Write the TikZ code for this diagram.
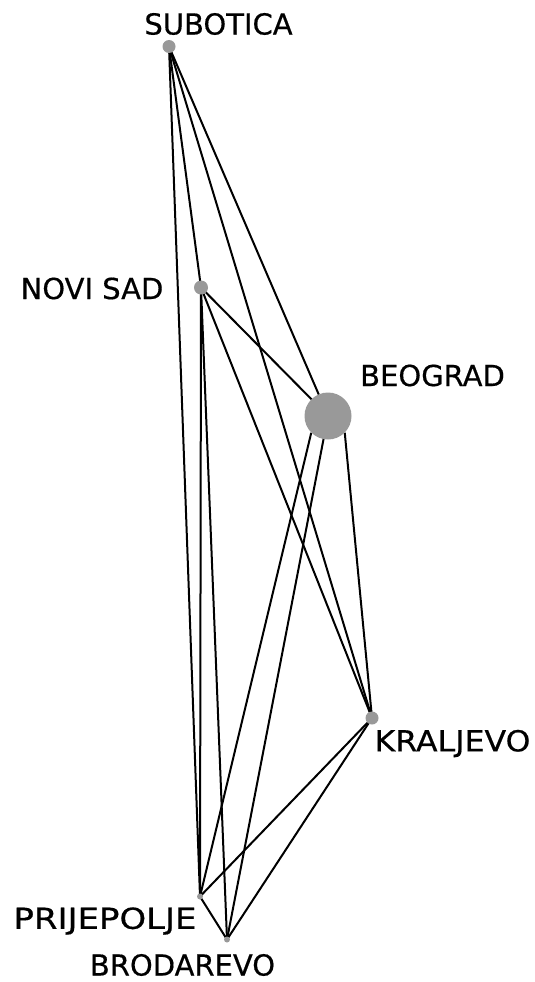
\documentclass[tikz,border=0pt]{standalone}
\usepackage{fontspec}
\usepackage{graphicx}
\setmainfont{DejaVu Sans}[FakeBold=0.5]
\usetikzlibrary{backgrounds}
\definecolor{dotgray}{HTML}{999999}
\begin{document}
\begin{tikzpicture}[x=1pt,y=-1pt,
  city/.style={circle,fill=dotgray,draw=none,inner sep=0pt,minimum size=#1},
  city/.default=13pt,
  edge/.style={line width=2pt,black},
  lbl/.style={inner sep=0pt,anchor=center,font=\fontsize{29}{34}\selectfont}]
\useasboundingbox (0,0) rectangle (535,982);
\node[city=13pt] (sub) at (169,46.5) {};
\node[city=14pt] (ns) at (201,287.5) {};
\node[city=47pt] (beo) at (328,416) {};
\node[city=13pt] (kra) at (372,718) {};
\node[city=6pt] (prij) at (200,896.5) {};
\node[city=6pt] (brod) at (227,939.5) {};
\begin{scope}[on background layer]
  \draw[edge] (sub.center) -- (ns.center);
  \draw[edge] (sub.center) -- (beo.center);
  \draw[edge] (sub.center) -- (kra.center);
  \draw[edge] (sub.center) -- (prij.center);
  \draw[edge] (ns.center) -- (beo.center);
  \draw[edge] (ns.center) -- (kra.center);
  \draw[edge] (ns.center) -- (prij.center);
  \draw[edge] (ns.center) -- (brod.center);
  \draw[edge] (beo.-45) -- (kra.center);
  \draw[edge] (beo.-135) -- (prij.center);
  \draw[edge] (beo.center) -- (brod.center);
  \draw[edge] (kra.center) -- (prij.center);
  \draw[edge] (kra.center) -- (brod.center);
  \draw[edge] (prij.center) -- (brod.center);
\end{scope}
\node[lbl] (lsub) at (218.5,24) {SUBOTICA};
\node[lbl] (lns) at (92,288.5) {NOVI SAD};
\node[lbl] (lbeo) at (432.5,375.5) {BEOGRAD};
\node[lbl] (lkra) at (452.5,743.5) {\scalebox{1.09}[1]{KRALJEVO}};
\node[lbl] (lprij) at (105,921) {\scalebox{1.17}[1]{PRIJEPOLJE}};
\node[lbl] (lbrod) at (182.5,965) {BRODAREVO};
\end{tikzpicture}
\end{document}
